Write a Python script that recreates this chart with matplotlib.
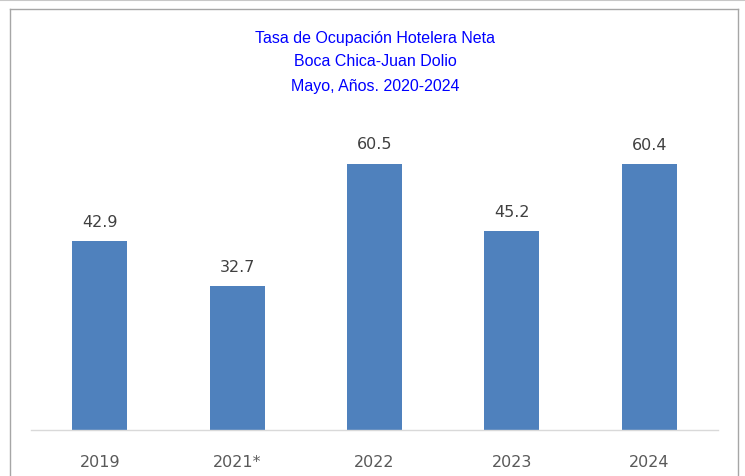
import matplotlib
matplotlib.use('Agg')
import matplotlib.pyplot as plt
from matplotlib.lines import Line2D

years = ['2019', '2021*', '2022', '2023', '2024']
ocupacion = [42.9, 32.7, 60.5, 45.2, 60.4]

W, H = 745, 477
fig = plt.figure(figsize=(W / 100, H / 100), dpi=100)

# chart frame (bottom edge is cut off in the original)
frame_col = '#A6A6A6'
x0, x1, y0 = 10 / W, 738 / W, 1 - 10 / H
fig.add_artist(Line2D([x0, x1], [y0, y0], color=frame_col, lw=1))
fig.add_artist(Line2D([x0, x0], [0, y0], color=frame_col, lw=1))
fig.add_artist(Line2D([x1, x1], [0, y0], color=frame_col, lw=1))
fig.add_artist(Line2D([0, 1], [1 - 1 / H, 1 - 1 / H], color='#C8C8C8', lw=1.5))

# axes: baseline at y=431 px, 4.397 px per unit
base = 431
top = base - 70 * 4.397
ax = fig.add_axes([31 / W, 1 - base / H, (718 - 31) / W, (base - top) / H])
bars = ax.bar(range(len(years)), ocupacion, width=0.4, color='#4F81BD')
ax.set_xlim(-0.5, len(years) - 0.5)
ax.set_ylim(0, 70)

for s in ['top', 'right', 'left']:
    ax.spines[s].set_visible(False)
ax.spines['bottom'].set_color('#D9D9D9')
ax.spines['bottom'].set_linewidth(1)
ax.set_yticks([])
ax.set_xticks(range(len(years)))
ax.set_xticklabels(years, fontsize=11.5, color='#595959')
ax.tick_params(axis='x', length=0, pad=17)

for b, v in zip(bars, ocupacion):
    ax.annotate(f'{v:.1f}', (b.get_x() + b.get_width() / 2, v), xytext=(0, 9),
                textcoords='offset points', ha='center', va='bottom',
                fontsize=11.5, color='#404040')

title_lines = ['Tasa de Ocupación Hotelera Neta', 'Boca Chica-Juan Dolio',
               'Mayo, Años. 2020-2024']
for i, t in enumerate(title_lines):
    fig.text(375 / W, 1 - (38 + i * 24) / H, t, ha='center', va='center',
             fontsize=11.5, color='#0000FF', fontfamily='Liberation Sans')

fig.savefig('out.png', dpi=100)
